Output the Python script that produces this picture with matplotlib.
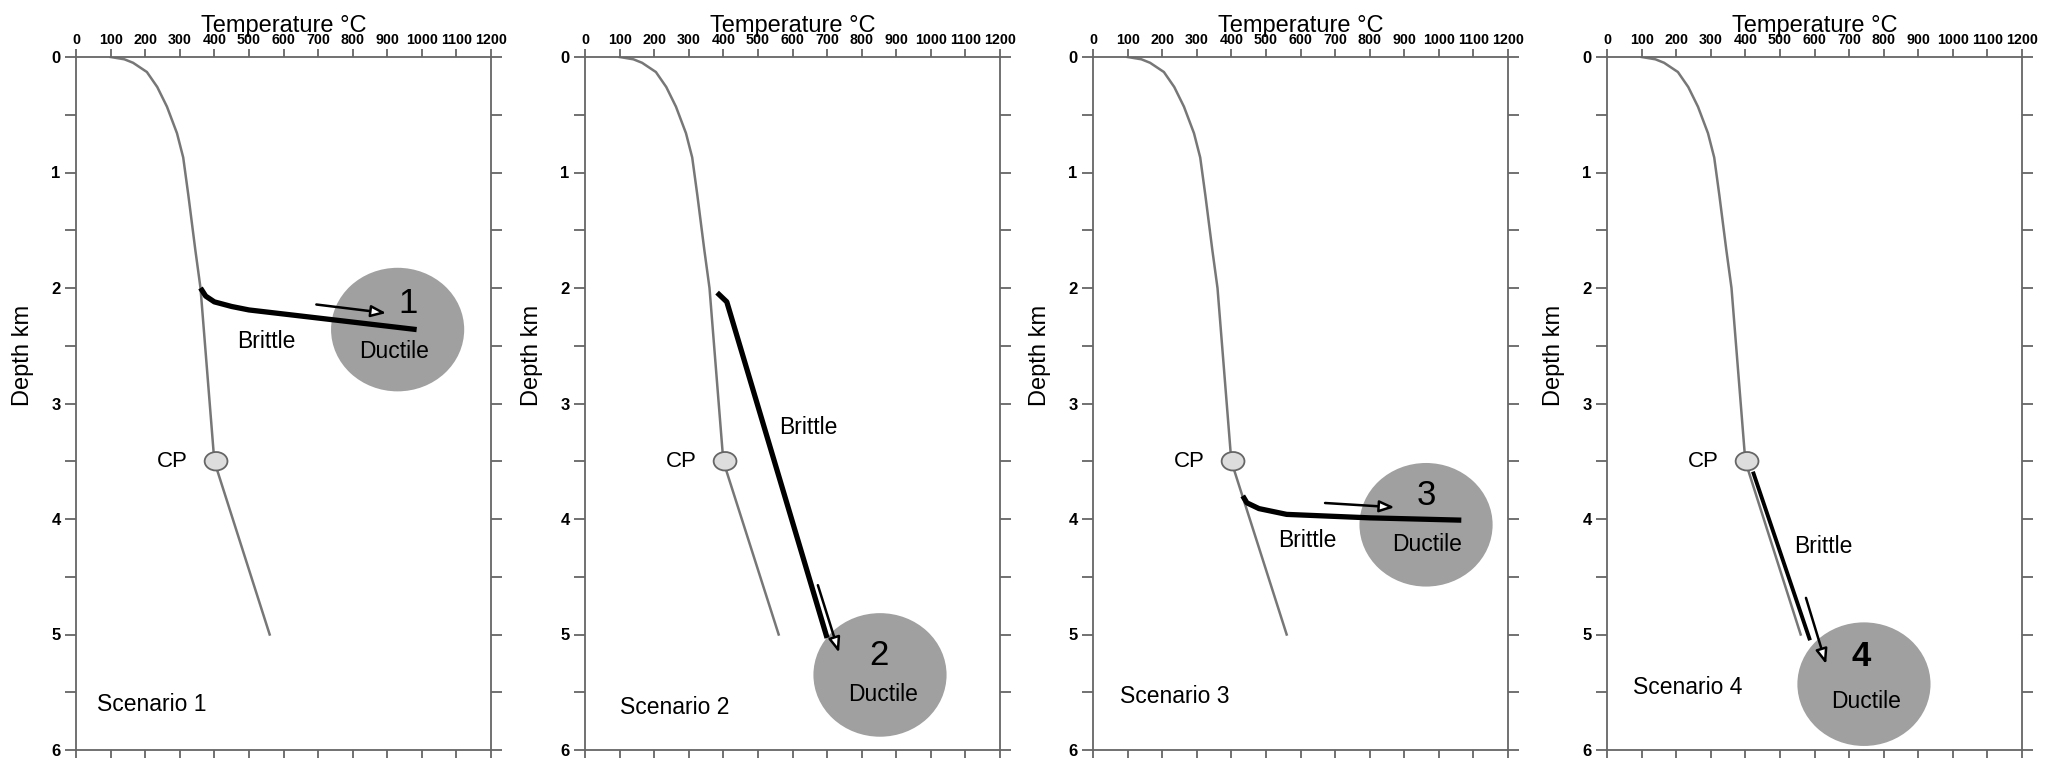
import numpy as np
import matplotlib
matplotlib.use('Agg')
import matplotlib.pyplot as plt
from matplotlib.patches import Ellipse

plt.rcParams['font.family'] = ['Liberation Sans', 'DejaVu Sans']

# geotherm (same in every panel)
geo_T = [100, 140, 165, 205, 235, 263, 292, 310, 325, 345, 360, 400, 560]
geo_d = [0, 0.02, 0.05, 0.13, 0.26, 0.43, 0.66, 0.87, 1.2, 1.67, 2.0, 3.5, 5.0]

# brittle paths per scenario
path_T = [[360, 375, 400, 450, 500, 700, 985],
          [382, 410, 700],
          [433, 445, 480, 560, 800, 1065],
          [422, 587]]
path_d = [[2.0, 2.07, 2.12, 2.16, 2.19, 2.26, 2.36],
          [2.04, 2.12, 5.03],
          [3.8, 3.86, 3.91, 3.96, 3.99, 4.01],
          [3.59, 5.05]]
path_lw = [3.8, 3.8, 3.8, 2.8]

arr_start = [(687, 2.14), (671, 4.55), (663, 3.86), (573, 4.66)]
arr_end = [(905, 2.22), (737, 5.18), (880, 3.90), (636, 5.28)]

circ_xy = [(930, 2.36), (853, 5.35), (963, 4.05), (743, 5.43)]
num_xy = [(959, 2.13), (850, 5.18), (963, 3.80), (734, 5.19)]
duct_xy = [(919, 2.55), (862, 5.52), (966, 4.22), (749, 5.58)]
brit_xy = [(550, 2.46), (645, 3.21), (620, 4.19), (625, 4.24)]
scen_xy = [(61, 5.61), (101, 5.63), (78, 5.54), (75, 5.46)]
scen_lab = ['Scenario 1', 'Scenario 2', 'Scenario 3', 'Scenario 4']
num_lab = ['1', '2', '3', '4']

cp_T, cp_d = 405, 3.5

W, H = 2045, 760
lefts = [76, 585, 1093, 1607]
aw, top, bot = 415, 57, 750

fig = plt.figure(figsize=(W/100, H/100), dpi=100)
sc = '#666666'

for i in range(4):
    ax = fig.add_axes([lefts[i]/W, 1-bot/H, aw/W, (bot-top)/H])
    ax.set_xlim(0, 1200)
    ax.set_ylim(6, 0)

    ax.plot(geo_T, geo_d, color='#777777', lw=1.8, zorder=2)
    ax.add_patch(Ellipse(circ_xy[i], 385, 1.07, fc='#a0a0a0', ec='none', zorder=1))
    ax.plot(path_T[i], path_d[i], color='k', lw=path_lw[i], solid_capstyle='butt', zorder=3)
    ax.annotate('', xy=arr_end[i], xytext=arr_start[i],
                arrowprops=dict(arrowstyle='-|>,head_length=0.9,head_width=0.35',
                                fc='white', ec='k', lw=1.8), zorder=4)
    ax.add_patch(Ellipse((cp_T, cp_d), 66, 0.16, fc='#dddddd', ec='#666666', lw=1.3, zorder=3))
    ax.text(cp_T-127, cp_d, 'CP', fontsize=16, ha='center', va='center')

    ax.text(*num_xy[i], num_lab[i], fontsize=25, ha='center', va='center',
            fontweight='bold' if i == 3 else 'normal', zorder=5)
    ax.text(*duct_xy[i], 'Ductile', fontsize=16.5, ha='center', va='center', zorder=5)
    ax.text(*brit_xy[i], 'Brittle', fontsize=16.5, ha='center', va='center')
    ax.text(*scen_xy[i], scen_lab[i], fontsize=16.5, ha='left', va='center')

    # axes cosmetics
    for s in ax.spines.values():
        s.set_color(sc)
        s.set_linewidth(1.3)
    ax.set_xticks(np.arange(0, 1201, 100))
    ax.set_yticks(np.arange(0, 6.01, 0.5))
    ax.set_yticklabels([str(int(v)) if v == int(v) else '' for v in np.arange(0, 6.01, 0.5)])
    ax.tick_params(axis='x', which='both', top=True, bottom=True, labeltop=True,
                   labelbottom=False, direction='out', length=6, width=1.3,
                   color=sc, labelsize=10.3, pad=1)
    ax.tick_params(axis='y', which='both', left=True, right=True, direction='out',
                   length=8, width=1.3, color=sc, labelsize=12, pad=3)
    for lab in ax.get_xticklabels() + ax.get_yticklabels():
        lab.set_fontweight('bold')
    ax.xaxis.set_label_position('top')
    ax.set_xlabel('Temperature °C', fontsize=17, labelpad=1)
    ax.set_ylabel('Depth km', fontsize=17)
    ax.yaxis.set_label_coords(-42/aw, 1-(355-top)/(bot-top))

plt.savefig('out.png', dpi=100)
